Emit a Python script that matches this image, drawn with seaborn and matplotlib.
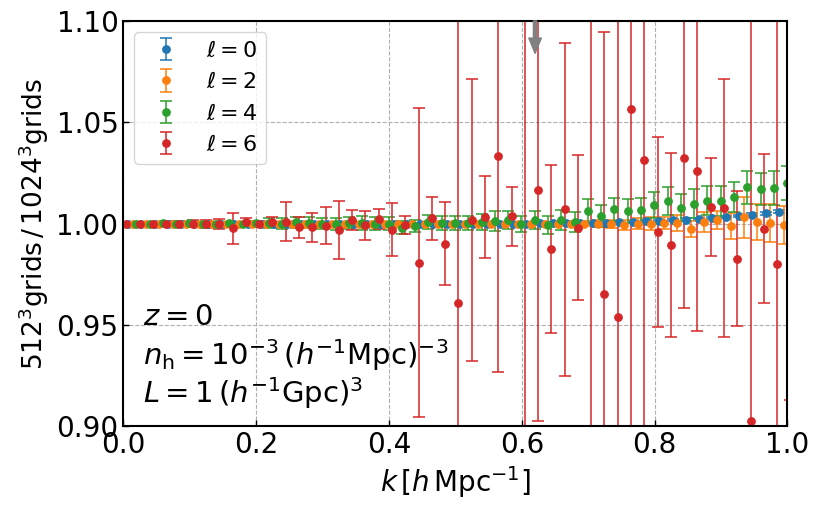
import matplotlib
matplotlib.use("Agg")
import matplotlib.pyplot as plt
from matplotlib.ticker import FormatStrFormatter
import seaborn as sns
import numpy as np

# k bin centres [h/Mpc]
k_bins = [0.01, 0.03, 0.05, 0.07, 0.09, 0.11, 0.13, 0.15, 0.17, 0.19,
          0.21, 0.23, 0.25, 0.27, 0.29, 0.31, 0.33, 0.35, 0.37, 0.39,
          0.41, 0.43, 0.45, 0.47, 0.49, 0.51, 0.53, 0.55, 0.57, 0.59,
          0.61, 0.63, 0.65, 0.67, 0.69, 0.71, 0.73, 0.75, 0.77, 0.79,
          0.81, 0.83, 0.85, 0.87, 0.89, 0.91, 0.93, 0.95, 0.97, 0.99,
          1.01]

# ratio 512^3 / 1024^3 grids, per multipole
ratio_l0 = [1.0000, 1.0000, 1.0000, 1.0000, 1.0000, 1.0000, 1.0000, 1.0000, 1.0000, 1.0000,
            1.0000, 1.0000, 1.0000, 1.0000, 1.0000, 1.0000, 1.0000, 1.0000, 1.0000, 1.0000,
            1.0000, 1.0000, 1.0000, 1.0000, 1.0000, 1.0000, 1.0000, 1.0000, 1.0000, 1.0000,
            1.0000, 1.0001, 1.0002, 1.0002, 1.0003, 1.0003, 1.0004, 1.0006, 1.0008, 1.0011,
            1.0014, 1.0016, 1.0019, 1.0023, 1.0027, 1.0032, 1.0037, 1.0043, 1.0050, 1.0058,
            1.0066]
err_l0 = [0.0002, 0.0002, 0.0002, 0.0002, 0.0002, 0.0002, 0.0002, 0.0002, 0.0002, 0.0002,
          0.0003, 0.0003, 0.0003, 0.0003, 0.0003, 0.0003, 0.0003, 0.0003, 0.0003, 0.0003,
          0.0003, 0.0003, 0.0003, 0.0003, 0.0003, 0.0004, 0.0004, 0.0004, 0.0004, 0.0004,
          0.0004, 0.0004, 0.0004, 0.0004, 0.0004, 0.0005, 0.0005, 0.0005, 0.0005, 0.0005,
          0.0005, 0.0005, 0.0006, 0.0006, 0.0006, 0.0006, 0.0006, 0.0007, 0.0007, 0.0007,
          0.0008]

ratio_l2 = [1.0000, 1.0000, 1.0000, 1.0000, 1.0000, 1.0000, 1.0000, 1.0000, 1.0000, 1.0000,
            1.0000, 1.0000, 1.0000, 1.0000, 1.0000, 1.0000, 1.0000, 1.0000, 1.0000, 1.0000,
            1.0000, 1.0000, 1.0000, 1.0000, 1.0000, 1.0000, 1.0000, 1.0000, 1.0000, 1.0000,
            1.0000, 1.0000, 1.0000, 1.0000, 1.0000, 1.0000, 0.9997, 0.9992, 1.0000, 1.0000,
            1.0003, 1.0003, 0.9975, 1.0008, 1.0016, 0.9988, 1.0030, 1.0008, 1.0003, 0.9992,
            1.0010]
err_l2 = [0.0002, 0.0002, 0.0002, 0.0002, 0.0002, 0.0002, 0.0002, 0.0002, 0.0002, 0.0002,
          0.0003, 0.0003, 0.0003, 0.0003, 0.0003, 0.0003, 0.0004, 0.0004, 0.0004, 0.0004,
          0.0005, 0.0005, 0.0005, 0.0006, 0.0006, 0.0006, 0.0007, 0.0007, 0.0008, 0.0008,
          0.0009, 0.0010, 0.0011, 0.0012, 0.0014, 0.0016, 0.0020, 0.0025, 0.0025, 0.0030,
          0.0030, 0.0040, 0.0040, 0.0050, 0.0045, 0.0065, 0.0100, 0.0090, 0.0095, 0.0093,
          0.0100]

ratio_l4 = [1.0000, 1.0000, 1.0001, 1.0000, 1.0001, 1.0000, 1.0000, 1.0002, 1.0000, 1.0001,
            1.0003, 1.0000, 1.0006, 1.0003, 1.0000, 0.9998, 1.0002, 1.0003, 1.0000, 1.0000,
            0.9980, 0.9987, 1.0008, 1.0003, 1.0003, 1.0003, 1.0008, 1.0013, 1.0016, 0.9997,
            1.0016, 0.9992, 1.0016, 1.0008, 1.0062, 1.0036, 1.0071, 1.0062, 1.0066, 1.0090,
            1.0112, 1.0079, 1.0099, 1.0112, 1.0112, 1.0132, 1.0178, 1.0171, 1.0176, 1.0200,
            1.0210]
err_l4 = [0.0003, 0.0003, 0.0004, 0.0004, 0.0005, 0.0006, 0.0007, 0.0008, 0.0010, 0.0012,
          0.0026, 0.0025, 0.0026, 0.0027, 0.0028, 0.0029, 0.0030, 0.0033, 0.0030, 0.0031,
          0.0032, 0.0030, 0.0033, 0.0033, 0.0035, 0.0035, 0.0040, 0.0048, 0.0045, 0.0040,
          0.0045, 0.0045, 0.0050, 0.0050, 0.0060, 0.0055, 0.0056, 0.0060, 0.0062, 0.0065,
          0.0068, 0.0066, 0.0070, 0.0072, 0.0075, 0.0075, 0.0080, 0.0080, 0.0082, 0.0085,
          0.0088]

ratio_l6 = [1.0000, 1.0000, 1.0000, 1.0000, 1.0000, 1.0000, 1.0000, 0.9999, 0.9976, 1.0006,
            1.0000, 1.0008, 1.0010, 0.9982, 0.9981, 0.9990, 0.9967, 1.0016, 0.9992, 1.0021,
            0.9970, 0.9994, 0.9806, 1.0025, 0.9901, 0.9608, 1.0018, 1.0033, 1.0333, 1.0036,
            0.8700, 1.0168, 0.9875, 1.0070, 0.9979, 1.1300, 0.9654, 0.9541, 1.0563, 1.0313,
            0.9959, 0.9893, 1.0326, 1.0258, 1.0082, 1.0077, 0.9827, 0.9027, 0.9975, 0.9799,
            1.0100]
err_l6 = [0.0005, 0.0008, 0.0010, 0.0012, 0.0015, 0.0018, 0.0020, 0.0025, 0.0078, 0.0020,
          0.0015, 0.0025, 0.0096, 0.0051, 0.0072, 0.0093, 0.0142, 0.0050, 0.0072, 0.0050,
          0.0130, 0.0045, 0.0763, 0.0107, 0.0206, 0.1600, 0.0695, 0.0202, 0.1065, 0.0146,
          0.2500, 0.1143, 0.0414, 0.0823, 0.0358, 0.2400, 0.1290, 0.1600, 0.1700, 0.1400,
          0.0469, 0.0454, 0.0741, 0.0790, 0.0242, 0.0637, 0.0334, 0.2100, 0.0366, 0.1300,
          0.0970]

ells = [0, 2, 4, 6]
series = {0: (ratio_l0, err_l0), 2: (ratio_l2, err_l2),
          4: (ratio_l4, err_l4), 6: (ratio_l6, err_l6)}

# small horizontal offsets so the multipoles don't sit on top of each other
k_shift = {0: -0.003, 2: 0.0043, 4: 0.0095, 6: -0.0055}

sns.set_theme(style="ticks", rc={
    "axes.edgecolor": "black",
    "axes.labelcolor": "black",
    "text.color": "black",
    "xtick.color": "black",
    "ytick.color": "black",
    "axes.linewidth": 1.5,
})
plt.rcParams["font.family"] = ["DejaVu Sans"]
plt.rcParams["mathtext.fontset"] = "dejavusans"

colors = sns.color_palette("tab10", 4)

fig, ax = plt.subplots(figsize=(8.22, 5.11), dpi=100)
fig.subplots_adjust(left=0.15, right=0.958, bottom=0.166, top=0.959)

for c, ell in zip(colors, ells):
    vals, errs = series[ell]
    kk = np.array(k_bins) + k_shift[ell]
    ax.errorbar(kk, vals, yerr=errs, fmt="o", color=c, ms=5.3,
                capsize=4, elinewidth=1.1, capthick=1.1,
                label=rf"$\ell={ell}$")

# marker at the top edge
ax.annotate("", xy=(0.62, 1.084), xytext=(0.62, 1.10),
            arrowprops=dict(color="gray", width=2.4, headwidth=9,
                            headlength=11, shrink=0))

ax.set_xlim(0.0, 1.0)
ax.set_ylim(0.90, 1.10)
ax.set_xticks([0.0, 0.2, 0.4, 0.6, 0.8, 1.0])
ax.set_yticks([0.90, 0.95, 1.00, 1.05, 1.10])
ax.yaxis.set_major_formatter(FormatStrFormatter("%.2f"))
ax.xaxis.set_major_formatter(FormatStrFormatter("%.1f"))
ax.tick_params(direction="in", length=4, width=1, labelsize=20)
ax.grid(True, ls="--", color="#b0b0b0", lw=0.8)

ax.set_xlabel(r"$k\,[h\,{\rm Mpc}^{-1}]$", fontsize=20)
ax.set_ylabel(r"$512^3{\rm grids}\,/\,1024^3{\rm grids}$", fontsize=19)

ax.text(0.03, 0.249, r"$z=0$", transform=ax.transAxes, fontsize=21, va="baseline")
ax.text(0.03, 0.150, r"$n_{\rm h}=10^{-3}\,(h^{-1}{\rm Mpc})^{-3}$",
        transform=ax.transAxes, fontsize=21, va="baseline")
ax.text(0.03, 0.057, r"$L=1\,(h^{-1}{\rm Gpc})^3$",
        transform=ax.transAxes, fontsize=21, va="baseline")

ax.legend(loc="upper left", fontsize=16, frameon=True)

fig.savefig("out.png", dpi=100)
